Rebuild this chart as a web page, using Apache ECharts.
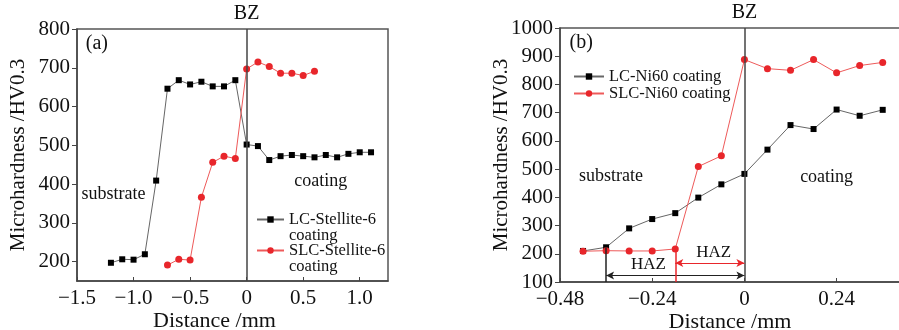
<!DOCTYPE html>
<html><head><meta charset="utf-8">
<script src="https://cdn.jsdelivr.net/npm/echarts@6/dist/echarts.min.js"></script>
<style>html,body{margin:0;padding:0;background:#fff}#c{width:899px;height:330px}</style>
</head><body><div id="c"></div>
<script>
// Panel (a)
const aLCx = [-1.2,-1.1,-1.0,-0.9,-0.8,-0.7,-0.6,-0.5,-0.4,-0.3,-0.2,-0.1,0,0.1,0.2,0.3,0.4,0.5,0.6,0.7,0.8,0.9,1.0,1.1];
const aLCy = [197,206,205,219,409,646,668,657,664,652,652,668,502,498,462,472,475,472,469,475,469,478,482,482];
const aSLCx = [-0.7,-0.6,-0.5,-0.4,-0.3,-0.2,-0.1,0,0.1,0.2,0.3,0.4,0.5,0.6];
const aSLCy = [191,206,204,366,456,472,466,697,715,703,686,686,680,691];
const aXTicks = [-1.5,-1.0,-0.5,0,0.5,1.0];
const aYTicks = [200,300,400,500,600,700,800];
// Panel (b)
const bLCx = [-0.42,-0.36,-0.30,-0.24,-0.18,-0.12,-0.06,0,0.06,0.12,0.18,0.24,0.30,0.36];
const bLCy = [210,223,290,323,344,399,446,483,569,656,642,711,689,710];
const bSLCx = [-0.42,-0.36,-0.30,-0.24,-0.18,-0.12,-0.06,0,0.06,0.12,0.18,0.24,0.30,0.36];
const bSLCy = [209,211,210,210,217,509,547,888,856,850,888,841,867,878];
const bXTicks = [-0.48,-0.24,0,0.24];
const bYTicks = [100,200,300,400,500,600,700,800,900,1000];
// HAZ annotations (data units)
const hazLC = {from:-0.36, to:0, top:223, arrowY:123};
const hazSLC = {from:-0.18, to:0, top:217, arrowY:167};

const FF = '"Liberation Serif", "DejaVu Serif", serif';
const BLK = '#000', BLKLINE = '#666', RED = '#e8262b', REDLINE = '#ee5a5a';
const zip = (xs, ys) => xs.map((x, i) => [x, ys[i]]);
const minus = s => s.replace('-', '\u2212');

function note(coord, text, size, color) {
  return {name: text, coord: coord, symbolSize: 0,
    label: {show: true, position: 'inside', formatter: '{b}', color: color || '#111', fontSize: size, fontFamily: FF}};
}

function xAxisCfg(idx, min, max, ticks, dec) {
  return {type: 'value', gridIndex: idx, min: min, max: max,
    axisLine: {show: true, onZero: false, lineStyle: {color: '#444', width: 1.5}},
    axisTick: {show: true, inside: true, length: 4, customValues: ticks, lineStyle: {color: '#444'}},
    axisLabel: {customValues: ticks, margin: 7, color: '#111', fontSize: 21, fontFamily: FF,
      formatter: v => v === 0 ? '0' : minus(v.toFixed(dec))},
    splitLine: {show: false},
    name: 'Distance /mm', nameLocation: 'middle', nameGap: 29, nameMoveOverlap: false,
    nameTextStyle: {color: '#111', fontSize: 22, fontFamily: FF, padding: idx === 0 ? [0, 36, 0, 0] : 0}};
}
function yAxisCfg(idx, min, max, ticks) {
  return {type: 'value', gridIndex: idx, min: min, max: max,
    axisLine: {show: true, onZero: false, lineStyle: {color: '#444', width: 1.5}},
    axisTick: {show: true, inside: false, length: 5, customValues: ticks, lineStyle: {color: '#444'}},
    axisLabel: {customValues: ticks, margin: 7, color: '#111', fontSize: 21, fontFamily: FF, formatter: v => String(v)},
    splitLine: {show: false},
    name: 'Microhardness /HV0.3', nameLocation: 'middle', nameGap: 48, nameRotate: 90, nameMoveOverlap: false,
    nameTextStyle: {color: '#111', fontSize: 21, fontFamily: FF}};
}

const bzLine = {xAxis: 0, lineStyle: {color: '#444', width: 1.5, type: 'solid'},
  label: {show: true, position: 'end', formatter: 'BZ', distance: 5, color: '#111', fontSize: 20, fontFamily: FF}};

const legendText = {color: '#111', fontSize: 16.5, lineHeight: 16, fontFamily: FF};

const option = {
  animation: false,
  backgroundColor: '#fff',
  grid: [
    {left: 77, top: 29, width: 311, height: 252, show: true, borderColor: '#555', borderWidth: 1.5, outerBoundsMode: 'none', containLabel: false},
    {left: 560, top: 28, width: 340, height: 254, show: true, borderColor: '#555', borderWidth: 1.5, outerBoundsMode: 'none', containLabel: false}
  ],
  xAxis: [xAxisCfg(0, -1.5, 1.25, aXTicks, 1), xAxisCfg(1, -0.48, 0.405, bXTicks, 2)],
  yAxis: [yAxisCfg(0, 150, 800, aYTicks), yAxisCfg(1, 100, 1000, bYTicks)],
  legend: [
    {data: ['LC-Stellite-6\ncoating'], left: 256, top: 195, itemWidth: 27, itemHeight: 8, itemGap: 0, padding: 0,
      formatter: n => ' \n' + n, textStyle: legendText},
    {data: ['SLC-Stellite-6\ncoating'], left: 256, top: 226, itemWidth: 27, itemHeight: 8, itemGap: 0, padding: 0,
      formatter: n => ' \n' + n, textStyle: legendText},
    {data: ['LC-Ni60 coating', 'SLC-Ni60 coating'], orient: 'vertical', left: 573, top: 68, itemWidth: 30, itemHeight: 8,
      itemGap: 0, padding: 0, textStyle: {color: '#111', fontSize: 16.5, lineHeight: 16, fontFamily: FF}}
  ],
  series: [
    {name: 'LC-Stellite-6\ncoating', type: 'line', xAxisIndex: 0, yAxisIndex: 0, data: zip(aLCx, aLCy),
      symbol: 'rect', symbolSize: 6, itemStyle: {color: BLK}, lineStyle: {color: BLKLINE, width: 1},
      markLine: {silent: true, symbol: 'none', data: [bzLine]},
      markPoint: {silent: true, data: [
        note([-1.324, 763], '(a)', 20), note([-1.177, 375], 'substrate', 18), note([0.656, 407], 'coating', 18)]}},
    {name: 'SLC-Stellite-6\ncoating', type: 'line', xAxisIndex: 0, yAxisIndex: 0, data: zip(aSLCx, aSLCy),
      symbol: 'circle', symbolSize: 7, itemStyle: {color: RED}, lineStyle: {color: REDLINE, width: 1}},
    {name: 'LC-Ni60 coating', type: 'line', xAxisIndex: 1, yAxisIndex: 1, data: zip(bLCx, bLCy),
      symbol: 'rect', symbolSize: 6, itemStyle: {color: BLK}, lineStyle: {color: BLKLINE, width: 1},
      markLine: {silent: true, symbol: 'none', symbolSize: [6, 8], data: [
        bzLine,
        [{coord: [hazLC.from, hazLC.top], symbol: 'none', lineStyle: {color: '#222', width: 1.5, type: 'solid'}, label: {show: false}},
         {coord: [hazLC.from, 100], symbol: 'none'}],
        [{coord: [hazLC.from, hazLC.arrowY], symbol: 'arrow', lineStyle: {color: '#222', width: 1, type: 'solid'}, label: {show: false}},
         {coord: [hazLC.to, hazLC.arrowY], symbol: 'arrow'}]
      ]},
      markPoint: {silent: true, data: [
        note([-0.425, 947], '(b)', 20), note([-0.347, 474], 'substrate', 18), note([0.214, 471], 'coating', 18),
        note([-0.25, 161], 'HAZ', 17), note([-0.08, 205], 'HAZ', 17)]}},
    {name: 'SLC-Ni60 coating', type: 'line', xAxisIndex: 1, yAxisIndex: 1, data: zip(bSLCx, bSLCy),
      symbol: 'circle', symbolSize: 7, itemStyle: {color: RED}, lineStyle: {color: REDLINE, width: 1},
      markLine: {silent: true, symbol: 'none', symbolSize: [6, 8], data: [
        [{coord: [hazSLC.from, hazSLC.top], symbol: 'none', lineStyle: {color: RED, width: 1.5, type: 'solid'}, label: {show: false}},
         {coord: [hazSLC.from, 100], symbol: 'none'}],
        [{coord: [hazSLC.from, hazSLC.arrowY], symbol: 'arrow', lineStyle: {color: RED, width: 1, type: 'solid'}, label: {show: false}},
         {coord: [hazSLC.to, hazSLC.arrowY], symbol: 'arrow'}]
      ]}}
  ]
};
const chart = echarts.init(document.getElementById('c'), null, {renderer: 'canvas'});
chart.setOption(option);
</script>
</body></html>
